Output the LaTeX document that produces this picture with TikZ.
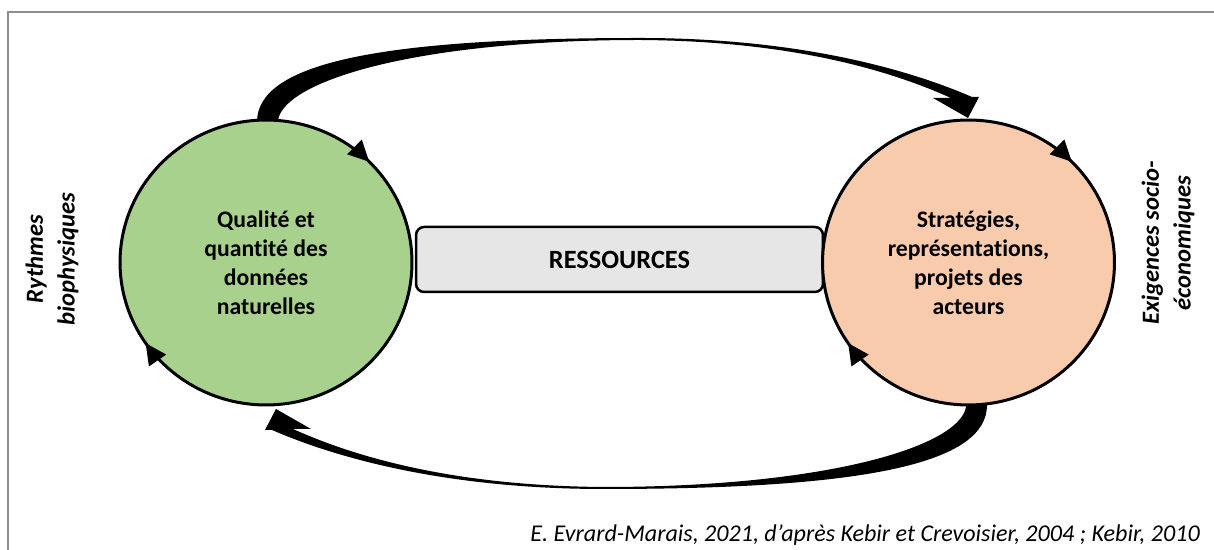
\documentclass[tikz,border=0pt]{standalone}
\usepackage{fontspec}
\setmainfont{Carlito}[Ligatures=NoCommon]
\usetikzlibrary{shapes.geometric,calc}
\definecolor{cgreen}{HTML}{A9D18E}
\definecolor{corange}{HTML}{F8CBAD}
\definecolor{cbox}{HTML}{E6E6E6}
\definecolor{cframe}{HTML}{8C8C8C}
\newcommand\bigcurvedarrow{(257,422) -- (257,428) .. controls (257,487) and (380,512) .. (640,512)
  .. controls (800,512) and (910,480) .. (972,453) -- (979,453) -- (968,432) -- (933,452) -- (951,452)
  .. controls (880,484) and (780,509) .. (640,510) .. controls (420,510) and (285,470) .. (278,430)
  -- (278,422) -- cycle}
\begin{document}
\begin{tikzpicture}[x=0.02cm,y=0.02cm,
  cyclebubble/.style={ellipse, draw=black, line width=0.06cm, minimum width=5.84cm, minimum height=5.7cm,
    inner sep=0pt, align=center, font=\bfseries\fontsize{13.5}{16.5}\selectfont},
  resbox/.style={draw=black, fill=cbox, line width=0.05cm, rounded corners=0.16cm,
    minimum width=8.14cm, minimum height=1.3cm, inner sep=0pt, font=\bfseries\fontsize{15}{18}\selectfont},
  sidelabel/.style={rotate=90, align=center, font=\bfseries\itshape\fontsize{14}{18}\selectfont},
  tinyhead/.style={fill=black}]
\useasboundingbox (0,0) rectangle (1214,550);
% frame
\draw[cframe, line width=0.04cm] (8,-5) -- (8,537.5) -- (1220,537.5);
% big curved arrows
\fill[black] \bigcurvedarrow;
\fill[black, rotate around={180:(622,286.5)}] \bigcurvedarrow;
% resources box
\node[resbox] (res) at (619.5,290.5) {RESSOURCES};
% circles
\node[cyclebubble, fill=cgreen] (L) at (266,287.5) {Qualité et\\quantité des\\données\\naturelles};
\node[cyclebubble, fill=corange] (R) at (968.5,287.5) {Stratégies,\\représentations,\\projets des\\acteurs};
% small arrowheads on circles
\foreach \c in {L,R}{
  \coordinate (\c a) at ($(\c.center)+(45:146 and 142.5)$);
  \coordinate (\c b) at ($(\c.center)+(214.5:146 and 142.5)$);
  \fill[tinyhead, shift={(\c a)}, rotate=-45] (0,0) -- (-21,10.5) -- (-21,-10.5) -- cycle;
  \fill[tinyhead, shift={(\c b)}, rotate=124.5] (0,0) -- (-21,10.5) -- (-21,-10.5) -- cycle;
}
% side labels
\node[sidelabel] (rythmes) at (52,291) {Rythmes\\biophysiques};
\node[sidelabel] (exig) at (1168,307) {Exigences socio-\\économiques};
% caption
\node[anchor=base east, inner sep=0pt, font=\itshape\fontsize{13.7}{16}\selectfont] (cap) at (1200,8.5)
  {E. Evrard-Marais, 2021, d’après Kebir et Crevoisier, 2004 ; Kebir, 2010};
\end{tikzpicture}
\end{document}
